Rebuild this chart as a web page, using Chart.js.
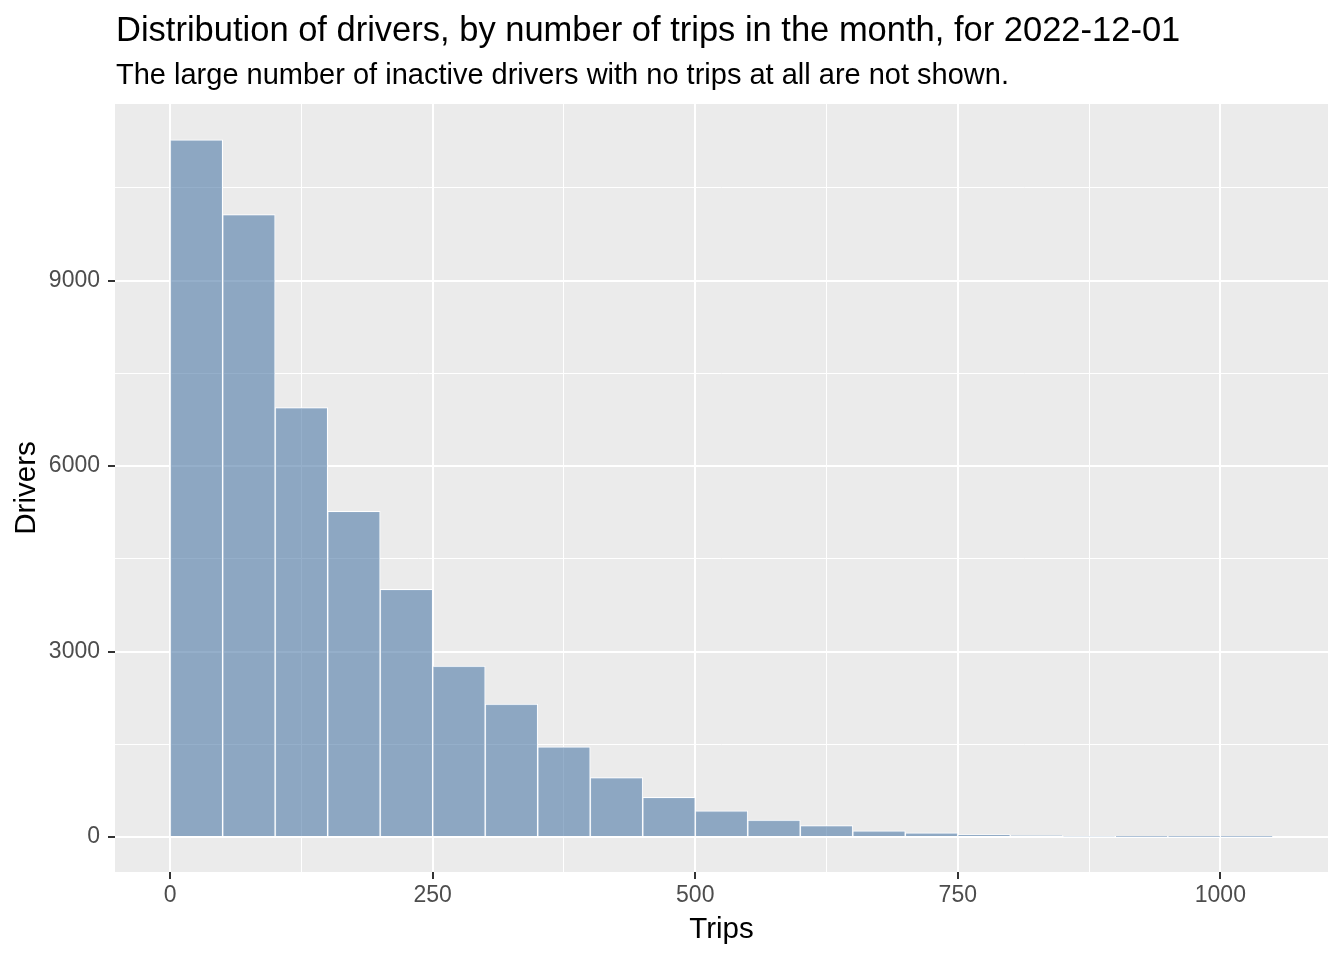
<!DOCTYPE html>
<html>
<head>
<meta charset="utf-8">
<script src="https://cdn.jsdelivr.net/npm/chart.js@4.4.1/dist/chart.umd.min.js"></script>
<style>
  html, body { margin: 0; padding: 0; background: #ffffff; }
</style>
</head>
<body>
<canvas id="trips-hist" width="1344" height="960"></canvas>
<script>
// histogram bins (left edges, 50 trips wide) and driver counts
const binStarts = [0, 50, 100, 150, 200, 250, 300, 350, 400, 450, 500,
                   550, 600, 650, 700, 750, 800, 850, 900, 950, 1000];
const binWidth = 50;
const driverCounts = [11280, 10070, 6945, 5270, 4005, 2765, 2150, 1460, 962, 640, 422,
                      272, 186, 99, 66, 40, 24, 12, 6, 4, 2];

// axis breaks
const xBreaks = [0, 125, 250, 375, 500, 625, 750, 875, 1000];
const xLabelled = [0, 250, 500, 750, 1000];
const yBreaks = [0, 1500, 3000, 4500, 6000, 7500, 9000, 10500];
const yLabelled = [0, 3000, 6000, 9000];

const titleText = "Distribution of drivers, by number of trips in the month, for 2022-12-01";
const subtitleText = "The large number of inactive drivers with no trips at all are not shown.";

const FONT = "'Liberation Sans', Arial, sans-serif";

// grey panel behind the grid + the two heading lines
const ggPanel = {
  id: 'ggPanel',
  beforeDraw(chart) {
    const { ctx, chartArea: a } = chart;
    ctx.save();
    ctx.fillStyle = '#EBEBEB';
    ctx.fillRect(a.left, a.top, a.right - a.left, a.bottom - a.top);
    ctx.restore();
  },
  afterDraw(chart) {
    const { ctx, chartArea: a } = chart;
    ctx.save();
    ctx.fillStyle = '#000000';
    ctx.textAlign = 'left';
    ctx.textBaseline = 'alphabetic';
    ctx.font = '34.5px ' + FONT;
    ctx.fillText(titleText, a.left + 1, 41);
    ctx.font = '29px ' + FONT;
    ctx.fillText(subtitleText, a.left + 1, 84);
    ctx.restore();
  }
};

const points = binStarts.map((s, i) => ({ x: s + binWidth / 2, y: driverCounts[i] }));

// major breaks get labels, tick marks and thicker grid lines
const isMajor = (list, c) => !!(c && c.tick && list.includes(c.tick.value));

new Chart(document.getElementById('trips-hist'), {
  type: 'bar',
  data: {
    datasets: [{
      data: points,
      backgroundColor: 'rgba(78, 121, 167, 0.6)',
      borderColor: '#FFFFFF',
      borderWidth: 1,
      barPercentage: 1,
      categoryPercentage: 1
    }]
  },
  plugins: [ggPanel],
  options: {
    responsive: false,
    animation: false,
    devicePixelRatio: 1,
    layout: { padding: { top: 104, right: 16, left: 0, bottom: 0 } },
    plugins: {
      legend: { display: false },
      tooltip: { enabled: false },
      title: { display: false }
    },
    scales: {
      x: {
        type: 'linear',
        min: -52.5,
        max: 1102.5,
        offset: false,
        afterBuildTicks: (scale) => { scale.ticks = xBreaks.map(v => ({ value: v })); },
        afterFit: (scale) => { scale.height = 88; },
        border: { display: false },
        grid: {
          offset: false,
          color: '#FFFFFF',
          lineWidth: (c) => isMajor(xLabelled, c) ? 2 : 1,
          tickColor: (c) => isMajor(xLabelled, c) ? '#333333' : 'rgba(0,0,0,0)',
          tickWidth: 2,
          tickLength: 7
        },
        ticks: {
          autoSkip: false,
          maxRotation: 0,
          padding: 3,
          color: '#4D4D4D',
          font: { family: FONT, size: 23 },
          callback: (v) => xLabelled.includes(v) ? String(v) : ''
        },
        title: {
          display: true,
          text: 'Trips',
          color: '#000000',
          font: { family: FONT, size: 29.5 },
          padding: { top: 0, bottom: 12 }
        }
      },
      y: {
        type: 'linear',
        min: -566,
        max: 11858,
        afterBuildTicks: (scale) => { scale.ticks = yBreaks.map(v => ({ value: v })); },
        afterFit: (scale) => { scale.width = 115; },
        border: { display: false },
        grid: {
          color: '#FFFFFF',
          lineWidth: (c) => isMajor(yLabelled, c) ? 2 : 1,
          tickColor: (c) => isMajor(yLabelled, c) ? '#333333' : 'rgba(0,0,0,0)',
          tickWidth: 2,
          tickLength: 7
        },
        ticks: {
          autoSkip: false,
          padding: 8,
          color: '#4D4D4D',
          font: { family: FONT, size: 23 },
          callback: (v) => yLabelled.includes(v) ? String(v) : ''
        },
        title: {
          display: true,
          text: 'Drivers',
          color: '#000000',
          font: { family: FONT, size: 29.5 },
          padding: { top: 9, bottom: 0 }
        }
      }
    }
  }
});
</script>
</body>
</html>
